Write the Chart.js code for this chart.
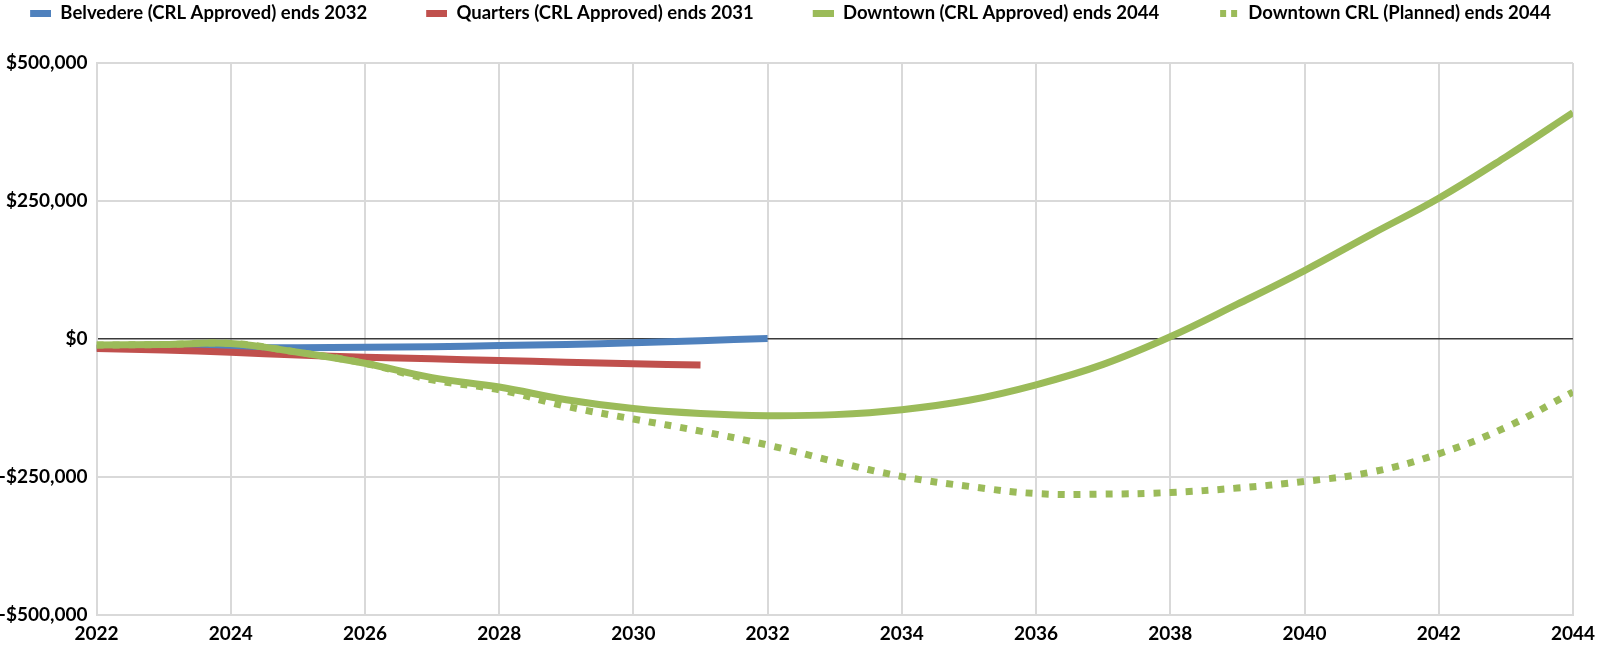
<!DOCTYPE html>
<html>
<head>
<meta charset="utf-8">
<script src="https://cdn.jsdelivr.net/npm/chart.js@4.4.1/dist/chart.umd.min.js"></script>
<style>
html,body{margin:0;padding:0;background:#ffffff;}
#wrap{width:1602px;height:648px;}
</style>
</head>
<body>
<div id="wrap"><canvas id="c" width="1602" height="648"></canvas></div>
<script>
// ---- data ----
const years = [2022,2023,2024,2025,2026,2027,2028,2029,2030,2031,2032,2033,2034,2035,2036,2037,2038,2039,2040,2041,2042,2043,2044];
const belvedere = [-16000,-16000,-16000,-16000,-15000,-14000,-12000,-10000,-7000,-3000,1000];
const quarters = [-17000,-20000,-24000,-29000,-33000,-36000,-39000,-42000,-45000,-47000];
const downtown = [-11000,-10000,-8000,-24000,-44000,-70000,-87000,-110000,-126000,-135000,-139000,-137000,-128000,-111000,-83000,-46000,4000,63000,124000,190000,255000,330000,410000];
const downtownPlanned = [-11000,-10000,-8000,-24000,-44000,-74000,-92000,-122000,-145000,-167000,-192000,-222000,-249000,-267000,-280000,-281000,-278000,-270000,-258000,-241000,-208000,-160000,-96000];
const seriesNames = ['Belvedere (CRL Approved) ends 2032','Quarters (CRL Approved) ends 2031','Downtown (CRL Approved) ends 2044','Downtown CRL (Planned) ends 2044'];
const seriesColors = ['#4F81BD','#C0504D','#9BBB59','#9BBB59'];
const yMin = -500000, yMax = 500000, yStep = 250000;
const xMin = 2022, xMax = 2044, xStep = 2;

const FONT = 'Lato';
const AXIS_FONT = 19;
const LEG_FONT = 18.5;
const LEG_PAD = 20;          // Chart.js gap between legend items
const LEG_LEAD = 39;         // extra blank before each legend marker
const LEG_CENTER_Y = 13;
const PLOT_TOP = 63;
const PLOT_LEFT = 96.5;
const PLOT_RIGHT_GAP = 26;
const LEFT_SHIFT = 60;       // moves the legend's centre to match the reference
const TOP_PAD = LEG_CENTER_Y - LEG_FONT/2 - LEG_PAD;
const LEG_EXTRA = PLOT_TOP - (TOP_PAD + LEG_FONT + LEG_PAD + 10);

function toPoints(vals){ return vals.map((v,i)=>({x:years[i], y:v})); }

function makeMarker(color, dotted){
  const c = document.createElement('canvas');
  c.width = LEG_LEAD + 21; c.height = 7;
  const g = c.getContext('2d');
  g.fillStyle = color;
  const x0 = LEG_LEAD;
  if (dotted){ g.fillRect(x0+2,0,6,7); g.fillRect(x0+13,0,6,7); }
  else { g.fillRect(x0,0,21,7); }
  return c;
}
const markers = [makeMarker(seriesColors[0],false),makeMarker(seriesColors[1],false),makeMarker(seriesColors[2],false),makeMarker(seriesColors[3],true)];

// leaves room between the legend and the plot
const legendSpacer = {
  id:'legendSpacer',
  beforeLayout(chart){
    const lg = chart.legend;
    if (lg && !lg._spaced){
      const orig = lg.fit;
      lg.fit = function(){ orig.call(this); this.height += LEG_EXTRA; };
      lg._spaced = true;
    }
  }
};

function fmtMoney(v){
  const s = '$' + Math.abs(v).toLocaleString('en-US');
  return v < 0 ? '-' + s : s;
}

const baseLine = {fill:false, pointRadius:0, pointHoverRadius:0, borderWidth:7, tension:0.4, borderCapStyle:'butt', borderJoinStyle:'round'};

new Chart(document.getElementById('c'), {
  type:'line',
  data:{
    datasets:[
      Object.assign({}, baseLine, {label:seriesNames[0], data:toPoints(belvedere), borderColor:seriesColors[0], backgroundColor:seriesColors[0], order:4}),
      Object.assign({}, baseLine, {label:seriesNames[1], data:toPoints(quarters), borderColor:seriesColors[1], backgroundColor:seriesColors[1], order:3}),
      Object.assign({}, baseLine, {label:seriesNames[2], data:toPoints(downtown), borderColor:seriesColors[2], backgroundColor:seriesColors[2], order:2}),
      Object.assign({}, baseLine, {label:seriesNames[3], data:toPoints(downtownPlanned), borderColor:seriesColors[3], backgroundColor:seriesColors[3], borderDash:[7,9], order:1})
    ]
  },
  options:{
    responsive:false,
    animation:false,
    devicePixelRatio:1,
    layout:{padding:{top:TOP_PAD, left:-LEFT_SHIFT, right:0, bottom:0}},
    plugins:{
      tooltip:{enabled:false},
      legend:{
        display:true,
        position:'top',
        align:'center',
        labels:{
          usePointStyle:true,
          pointStyleWidth:LEG_LEAD + 21,
          padding:LEG_PAD,
          color:'#000000',
          font:{family:FONT, size:LEG_FONT, weight:'bold'},
          generateLabels(chart){
            return chart.data.datasets.map((ds,i)=>({
              text:ds.label, fillStyle:ds.borderColor, strokeStyle:ds.borderColor,
              lineWidth:0, pointStyle:markers[i], rotation:0, hidden:false, datasetIndex:i, fontColor:'#000000'
            }));
          }
        }
      }
    },
    scales:{
      x:{
        type:'linear', min:xMin, max:xMax,
        ticks:{stepSize:xStep, color:'#000000', padding:7, font:{family:FONT, size:AXIS_FONT, weight:'bold'}, maxRotation:0, autoSkip:false,
          callback:(v)=>String(v)},
        grid:{color:'#d9d9d9', lineWidth:2, drawTicks:false},
        border:{color:'#d9d9d9', width:2},
        afterFit(s){ s.height = 33; }
      },
      y:{
        position:'left',
        min:yMin, max:yMax,
        ticks:{stepSize:yStep, color:'#000000', padding:9, font:{family:FONT, size:AXIS_FONT, weight:'bold'},
          callback:(v)=>fmtMoney(v)},
        grid:{
          color:(ctx)=> (ctx.tick && ctx.tick.value === 0) ? '#3a3a3a' : '#d9d9d9',
          lineWidth:(ctx)=> (ctx.tick && ctx.tick.value === 0) ? 1.5 : 2,
          drawTicks:false
        },
        border:{color:'#d9d9d9', width:2},
        afterFit(s){ s.width = PLOT_LEFT + LEFT_SHIFT; }
      },
      yRightGap:{
        position:'right',
        display:true,
        min:0, max:1,
        ticks:{display:false},
        grid:{display:false, drawTicks:false},
        border:{display:false},
        afterFit(s){ s.width = PLOT_RIGHT_GAP; }
      }
    }
  },
  plugins:[legendSpacer]
});
</script>
</body>
</html>
